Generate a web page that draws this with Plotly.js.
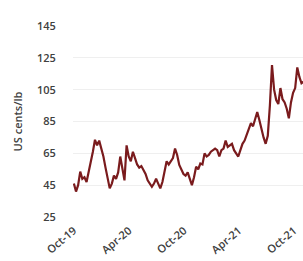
<!DOCTYPE html>
<html>
<head>
<meta charset="utf-8">
<script src="https://cdn.plot.ly/plotly-3.0.1.min.js"></script>
<style>html,body{margin:0;padding:0;background:#fff;}#chart{width:303px;height:261px;}</style>
</head>
<body>
<div id="chart"></div>
<script>
const dates = [
"2019-10-01","2019-10-08","2019-10-15","2019-10-22","2019-10-29","2019-11-05","2019-11-12","2019-11-19","2019-11-26",
"2019-12-03","2019-12-10","2019-12-17","2019-12-24","2019-12-31","2020-01-07","2020-01-14","2020-01-21","2020-01-28",
"2020-02-04","2020-02-11","2020-02-18","2020-02-25","2020-03-03","2020-03-10","2020-03-17","2020-03-24","2020-03-31",
"2020-04-07","2020-04-14","2020-04-21","2020-04-28","2020-05-05","2020-05-12","2020-05-19","2020-05-26","2020-06-02",
"2020-06-09","2020-06-16","2020-06-23","2020-06-30","2020-07-07","2020-07-14","2020-07-21","2020-07-28","2020-08-04",
"2020-08-11","2020-08-18","2020-08-25","2020-09-01","2020-09-08","2020-09-15","2020-09-22","2020-09-29","2020-10-06",
"2020-10-13","2020-10-20","2020-10-27","2020-11-03","2020-11-10","2020-11-17","2020-11-24","2020-12-01","2020-12-08",
"2020-12-15","2020-12-22","2020-12-29","2021-01-05","2021-01-12","2021-01-19","2021-01-26","2021-02-02","2021-02-09",
"2021-02-16","2021-02-23","2021-03-02","2021-03-09","2021-03-16","2021-03-23","2021-03-30","2021-04-06","2021-04-13",
"2021-04-20","2021-04-27","2021-05-04","2021-05-11","2021-05-18","2021-05-25","2021-06-01","2021-06-08","2021-06-15",
"2021-06-22","2021-06-29","2021-07-06","2021-07-13","2021-07-20","2021-07-27","2021-08-03","2021-08-10","2021-08-17",
"2021-08-24","2021-08-31","2021-09-07","2021-09-14","2021-09-21","2021-09-28","2021-10-05","2021-10-12","2021-10-19",
"2021-10-26","2021-11-02"
];
const prices = [
46,41,45,53.5,49,50,47,53,58,
66,73.5,70,73,68,63,56,50,43,
46,51,49,53,63,55,48,70,63,
60,66,62,58,56,57,54.5,52,48,
46,44,46,49,46,43,47,53,60,
58,60,62,68,64,57.7,55,52,51,
53,49,45,50,56.6,55,58.6,58,65,
63,64,66,67,68,67,63,67,68,
73,69,70,71,67,65,63,67,71,
73,76.5,80,84,82,87,91,86,80,
75,71,76,95,120.5,105,98.5,96,106,
99,97,93,87,97,103,106,119,113,
109,110
];
const tickVals = ["2019-10-01","2020-04-01","2020-10-01","2021-04-01","2021-10-01"];
const tickText = ["Oct-19","Apr-20","Oct-20","Apr-21","Oct-21"];
const yTicks = [25,45,65,85,105,125,145];

const font = {family: "Open Sans, Liberation Sans, sans-serif", size: 11, color: "#404040", weight: 600};
const xfont = {family: "Open Sans, Liberation Sans, sans-serif", size: 11, color: "#404040", weight: 600};

Plotly.newPlot("chart", [{
  x: dates, y: prices, type: "scatter", mode: "lines",
  line: {color: "#7a1b1d", width: 2.2}, hoverinfo: "none"
}], {
  width: 303, height: 261,
  margin: {l: 73, r: 0, t: 26, b: 44},
  paper_bgcolor: "#fff", plot_bgcolor: "#fff",
  showlegend: false,
  font: font,
  xaxis: {
    type: "date", range: ["2019-09-28", "2021-10-31"],
    tickvals: tickVals, ticktext: tickText, tickangle: -40,
    showgrid: false, zeroline: false, showline: false,
    ticks: "outside", ticklen: 2, tickcolor: "rgba(0,0,0,0)",
    tickfont: xfont
  },
  yaxis: {
    range: [25, 145], tickvals: yTicks,
    showgrid: true, gridcolor: "#efefef", gridwidth: 1,
    zeroline: false, showline: false,
    ticks: "outside", ticklen: 14, tickcolor: "rgba(0,0,0,0)",
    tickfont: font,
    title: {text: "US cents/lb", font: font, standoff: 12}
  }
}, {staticPlot: true, displayModeBar: false});
</script>
</body>
</html>
